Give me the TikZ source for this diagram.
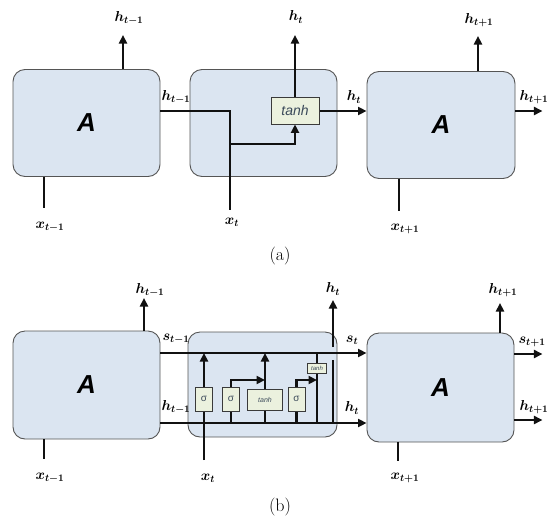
\documentclass[tikz,border=0pt]{standalone}
\usepackage{amsmath,amssymb}
\usepackage{fontspec}
\newfontfamily\cellfont{Liberation Sans}
\usetikzlibrary{arrows.meta,positioning,calc}
\definecolor{CellBlue}{HTML}{DBE5F1}
\definecolor{CellLine}{HTML}{555555}
\definecolor{GateGreen}{HTML}{EBF1DE}
\definecolor{GateLine}{HTML}{3A3A3A}
\definecolor{GateText}{HTML}{3B4A5A}
\definecolor{Ink}{HTML}{111111}
\pgfdeclarelayer{cells}
\pgfdeclarelayer{wires}
\pgfsetlayers{cells,wires,main}
\tikzset{
  cell/.style={draw=CellLine,line width=0.9pt,rounded corners=12pt,fill=CellBlue,
              minimum width=147pt,minimum height=107pt,inner sep=0pt,
              font=\cellfont\bfseries\itshape\fontsize{26}{28}\selectfont},
  gate/.style={draw=GateLine,line width=0.8pt,fill=GateGreen,inner sep=0pt,
              text=GateText,font=\cellfont\fontsize{10}{11}\selectfont},
  wire/.style={line width=2.8pt,draw=Ink},
  flow/.style={wire,-{Triangle[length=8.5pt,width=8pt]}},
  lbl/.style={font=\boldmath\fontsize{14.5}{16}\selectfont,inner sep=1pt},
  captext/.style={font=\fontsize{18}{20}\selectfont,inner sep=1pt}
}

\begin{document}
\begin{tikzpicture}[x=1pt,y=-1pt]
  \useasboundingbox (0,0) rectangle (551,517);
  % (a) plain recurrent cells
  \begin{pgfonlayer}{cells}
    \node[cell] (a1) at (86.5,123) {A};
    \node[cell] (a2) at (263.5,123) {};
    \node[cell,minimum width=148pt] (a3) at (441,125) {A};
  \end{pgfonlayer}
  \node[gate,minimum width=48pt,minimum height=27pt,
        font=\cellfont\itshape\fontsize{14}{15}\selectfont] (ta) at (295,110.5) {tanh};
  \coordinate (ya1) at (123,35);
  \coordinate (ya3) at (478,36);
  \coordinate (xa1) at (44,208);
  \coordinate (xa2) at (230,210);
  \coordinate (xa3) at (399,211);
  \coordinate (ja) at (230,144);
  \begin{pgfonlayer}{wires}
    \draw[flow] (ya1 |- a1.north) -- (ya1);
    \draw[flow] (ya3 |- a3.north) -- (ya3);
    \draw[flow] (ta.north) -- (ta.north |- ya1);
    \draw[wire] (xa1 |- a1.south) -- (xa1);
    \draw[wire] (xa3 |- a3.south) -- (xa3);
    \draw[wire] (a1.east |- 0,111) -| (xa2);
    \draw[flow] (ja) -| (ta.south);
    \draw[flow] (ta.east |- 0,111) -- (a3.west |- 0,111);
    \draw[flow] (a3.east |- 0,111) -- ++(27,0);
  \end{pgfonlayer}
  \node[lbl] (la1) at (129,18) {$h_{t-1}$};
  \node[lbl] (la2) at (296,17) {$h_t$};
  \node[lbl] (la3) at (479,20) {$h_{t+1}$};
  \node[lbl] (la4) at (176,97) {$h_{t-1}$};
  \node[lbl] (la5) at (354,97) {$h_t$};
  \node[lbl] (la6) at (534,97) {$h_{t+1}$};
  \node[lbl] (la7) at (50,227) {$x_{t-1}$};
  \node[lbl] (la8) at (232,222) {$x_t$};
  \node[lbl] (la9) at (405,229) {$x_{t+1}$};
  \node[captext] (capa) at (280,256) {(a)};

  % (b) gated cells with state line
  \begin{pgfonlayer}{cells}
    \node[cell,minimum height=108pt] (b1) at (86.5,385) {A};
    \node[cell,minimum width=149pt,minimum height=105pt] (b2) at (262.5,384.5) {};
    \node[cell,minimum height=109pt] (b3) at (440.5,387.5) {A};
  \end{pgfonlayer}
  \node[gate,minimum width=17pt,minimum height=24pt] (g1) at (204,399) {σ};
  \node[gate,minimum width=17pt,minimum height=24pt] (g2) at (231,399) {σ};
  \node[gate,minimum width=35pt,minimum height=21pt,
        font=\cellfont\itshape\fontsize{7}{8}\selectfont] (g3) at (265,399.5) {tanh};
  \node[gate,minimum width=17pt,minimum height=24pt] (g4) at (296.5,399) {σ};
  \node[gate,minimum width=19pt,minimum height=10pt,
        font=\cellfont\itshape\fontsize{6}{7}\selectfont] (g5) at (317,368) {tanh};
  \coordinate (yb1) at (144,298);
  \coordinate (yb2) at (333,300);
  \coordinate (yb3) at (500,303);
  \coordinate (xb1) at (44,459);
  \coordinate (xb2) at (204,460);
  \coordinate (xb3) at (398,461);
  \coordinate (sl) at (0,353);
  \coordinate (hl) at (0,423);
  \coordinate (hb) at (333,360);
  \coordinate (ht) at (333,347);
  \begin{pgfonlayer}{wires}
    \draw[flow] (yb1 |- b1.north) -- (yb1);
    \draw[flow] (yb3 |- b3.north) -- (yb3);
    \draw[wire] (xb1 |- b1.south) -- (xb1);
    \draw[wire] (xb3 |- b3.south) -- (xb3);
    \draw[flow] (b1.east |- sl) -- (b3.west |- sl);
    \draw[flow] (b1.east |- hl) -- (b3.west |- hl);
    \draw[flow] (b3.east |- 0,354) -- ++(28,0);
    \draw[flow] (b3.east |- 0,420) -- ++(28,0);
    \draw[flow] (xb2) -- (xb2 |- sl);
    \draw[flow] (g2 |- hl) |- (g3 |- 0,380);
    \draw[flow] (g3 |- hl) -- (g3 |- sl);
    \draw[flow] (g4 |- hl) |- (g5 |- 0,380);
    \draw[wire] (g5 |- hl) -- (g5 |- sl);
    \draw[wire] (yb2 |- hl) -- (hb);
    \draw[flow] (ht) -- (yb2);
  \end{pgfonlayer}
  \node[lbl] (lb1) at (150,290) {$h_{t-1}$};
  \node[lbl] (lb2) at (333,289) {$h_t$};
  \node[lbl] (lb3) at (503,290) {$h_{t+1}$};
  \node[lbl] (lb4) at (176,339) {$s_{t-1}$};
  \node[lbl] (lb5) at (176,407) {$h_{t-1}$};
  \node[lbl] (lb6) at (352,340) {$s_t$};
  \node[lbl] (lb7) at (352,408) {$h_t$};
  \node[lbl] (lb8) at (532,342) {$s_{t+1}$};
  \node[lbl] (lb9) at (534,407) {$h_{t+1}$};
  \node[lbl] (lb10) at (50,478) {$x_{t-1}$};
  \node[lbl] (lb11) at (208,478) {$x_t$};
  \node[lbl] (lb12) at (405,478) {$x_{t+1}$};
  \node[captext] (capb) at (280,507) {(b)};
\end{tikzpicture}
\end{document}
